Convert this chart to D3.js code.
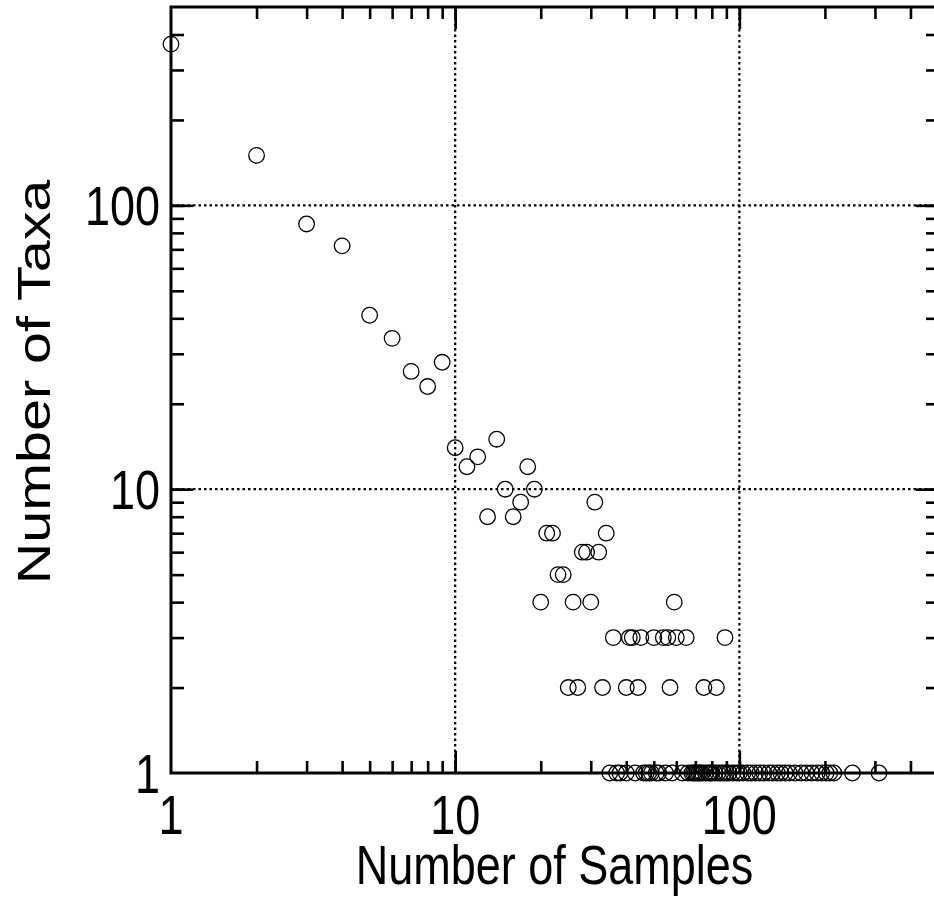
<!DOCTYPE html>
<html>
<head>
<meta charset="utf-8">
<script src="https://cdn.jsdelivr.net/npm/d3@7/dist/d3.min.js"></script>
<style>
  html, body { margin: 0; padding: 0; background: #fff; }
  svg { display: block; font-family: "Liberation Sans", Arial, sans-serif; }
</style>
</head>
<body>
<script>
// Taxa found in n samples (y >= 2)
const samples = [1, 2, 3, 4, 5, 6, 7, 8, 9, 10, 11, 12, 13, 14, 15, 16, 17, 18, 19, 20,
  21, 22, 23, 24, 25, 26, 27, 28, 29, 30, 31, 32, 33, 34, 36, 40, 41, 42, 44, 45,
  50, 54, 56, 57, 59, 60, 65, 75, 83, 89];
const taxa = [370, 150, 86, 72, 41, 34, 26, 23, 28, 14, 12, 13, 8, 15, 10, 8, 9, 12, 10, 4,
  7, 7, 5, 5, 2, 4, 2, 6, 6, 4, 9, 6, 2, 7, 3, 2, 3, 3, 2, 3,
  3, 3, 3, 2, 4, 3, 3, 2, 2, 3];
// sample counts that hold a single taxon
const singles = [35, 37, 38, 40, 43, 46, 47, 48, 49, 51, 52, 55, 58, 63, 66, 68, 69, 70,
  71, 72, 73, 74, 76, 78, 79, 80, 82, 84, 86, 88, 90, 92, 95, 98, 100, 103, 107, 110,
  114, 118, 122, 127, 131, 136, 140, 145, 150, 157, 165, 172, 180, 188, 195, 202, 208,
  215, 250, 310];

const xMajor = [1, 10, 100];
const yMajor = [1, 10, 100];

(function() {
  const W = 934, H = 897;
  const m = { left: 171, top: 7, right: 938, bottom: 773 };
  const stretch = 1.25;   // lettering is drawn taller than it is wide

  const svg = d3.select("body").append("svg")
    .attr("width", W)
    .attr("height", H);

  const x = d3.scaleLog().domain([1, 500]).range([m.left, m.right]);
  const y = d3.scaleLog().domain([1, 500]).range([m.bottom, m.top]);

  const points = samples.map((s, i) => ({ s: s, t: taxa[i] }))
    .concat(singles.map(s => ({ s: s, t: 1 })));

  // dotted grid at the decades
  const grid = svg.append("g")
    .attr("stroke", "#000")
    .attr("stroke-width", 2.2)
    .attr("stroke-dasharray", "2.5,3");
  grid.selectAll(".gx").data([10, 100]).enter().append("line")
    .attr("x1", d => x(d)).attr("x2", d => x(d))
    .attr("y1", m.top).attr("y2", m.bottom);
  grid.selectAll(".gy").data([10, 100]).enter().append("line")
    .attr("x1", m.left).attr("x2", m.right)
    .attr("y1", d => y(d)).attr("y2", d => y(d));

  // inward ticks on all four sides
  const minorX = x.ticks().filter(d => d > 1 && d < 500);
  const minorY = y.ticks().filter(d => d > 1 && d < 500);

  function tickAxis(axis, t, size, vals) {
    const g = svg.append("g")
      .attr("transform", t)
      .call(axis.tickValues(vals).tickSize(size).tickFormat(""));
    g.select(".domain").remove();
    g.selectAll(".tick line").attr("stroke", "#000").attr("stroke-width", 2.6);
    return g;
  }
  tickAxis(d3.axisBottom(x), `translate(0,${m.bottom})`, -12, minorX);
  tickAxis(d3.axisTop(x), `translate(0,${m.top})`, -12, minorX);
  tickAxis(d3.axisLeft(y), `translate(${m.left},0)`, -13, minorY);
  tickAxis(d3.axisRight(y), `translate(${m.right},0)`, -12, minorY);
  tickAxis(d3.axisBottom(x), `translate(0,${m.bottom})`, -22, [10, 100]);
  tickAxis(d3.axisTop(x), `translate(0,${m.top})`, -22, [10, 100]);
  tickAxis(d3.axisLeft(y), `translate(${m.left},0)`, -22, [10, 100]);
  tickAxis(d3.axisRight(y), `translate(${m.right},0)`, -22, [10, 100]);

  // frame
  svg.append("rect")
    .attr("x", m.left).attr("y", m.top)
    .attr("width", m.right - m.left).attr("height", m.bottom - m.top)
    .attr("fill", "none")
    .attr("stroke", "#000")
    .attr("stroke-width", 3);

  // points
  svg.append("g").selectAll("circle")
    .data(points)
    .enter().append("circle")
    .attr("cx", d => x(d.s))
    .attr("cy", d => y(d.t))
    .attr("r", 7.8)
    .attr("fill", "none")
    .attr("stroke", "#000")
    .attr("stroke-width", 1.3);

  // tick labels
  svg.append("g").selectAll("text")
    .data(xMajor)
    .enter().append("text")
    .attr("transform", d => `translate(${x(d)},834) scale(1,${stretch})`)
    .attr("text-anchor", "middle")
    .attr("font-size", 45)
    .text(d => d);

  svg.append("g").selectAll("text")
    .data(yMajor)
    .enter().append("text")
    .attr("transform", d => `translate(160,${y(d) + 20}) scale(1,${stretch})`)
    .attr("text-anchor", "end")
    .attr("font-size", 45)
    .text(d => d);

  // axis titles
  svg.append("text")
    .attr("transform", `translate(${(m.left + m.right) / 2},884) scale(1,${stretch})`)
    .attr("text-anchor", "middle")
    .attr("font-size", 45)
    .text("Number of Samples");

  svg.append("text")
    .attr("transform", `translate(50,382) scale(1,${stretch}) rotate(-90)`)
    .attr("text-anchor", "middle")
    .attr("font-size", 46)
    .text("Number of Taxa");
})();
</script>
</body>
</html>
